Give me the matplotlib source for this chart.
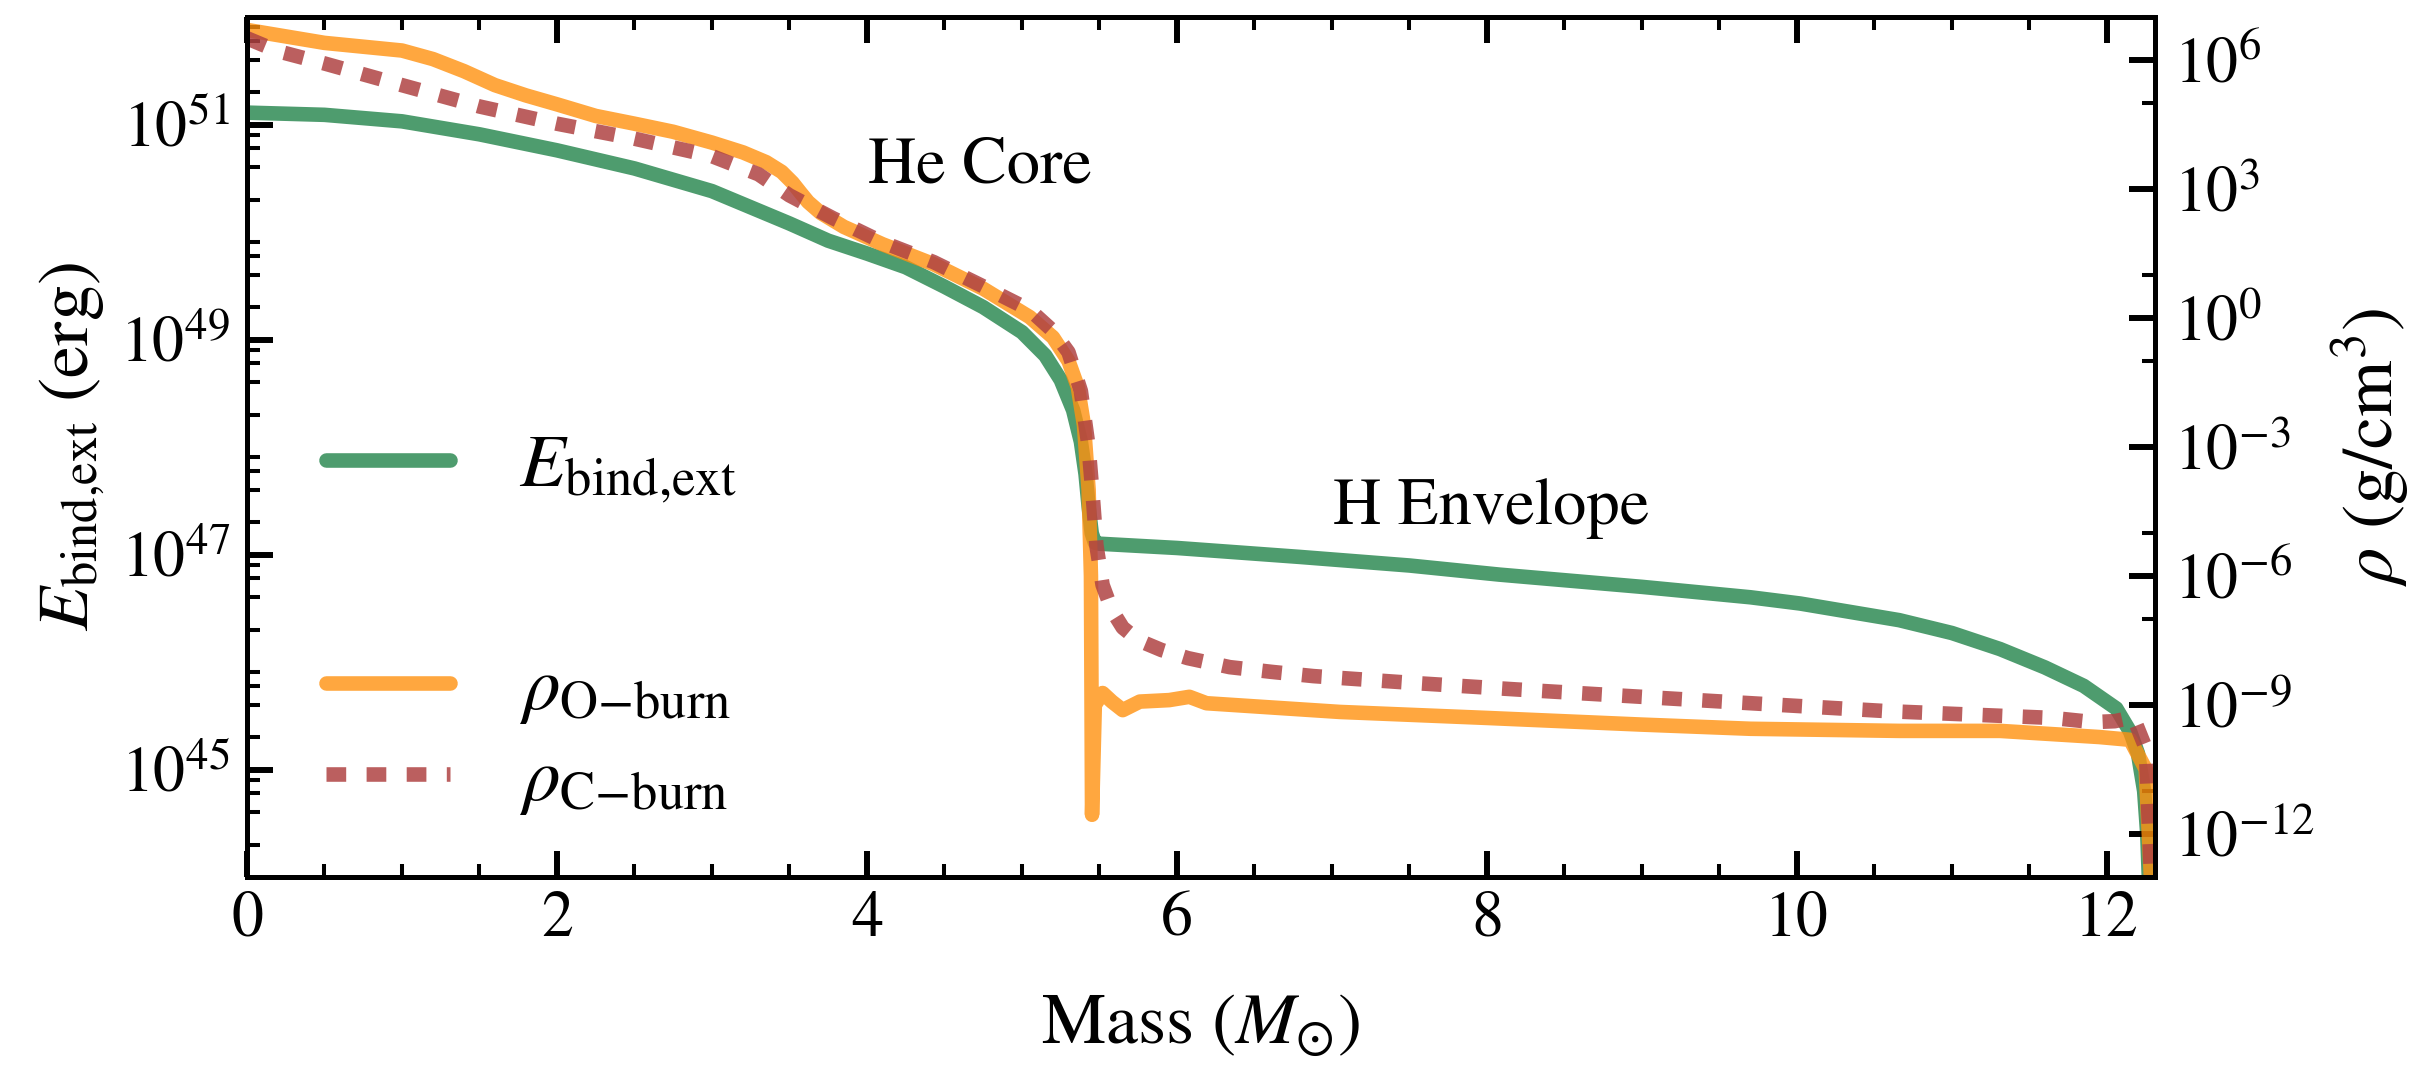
import math
import matplotlib
matplotlib.use("Agg")
import matplotlib.pyplot as plt
from matplotlib import ticker

plt.rcParams['font.family'] = 'STIXGeneral'
plt.rcParams['mathtext.fontset'] = 'stix'
plt.rcParams['font.size'] = 46

# binding energy of the layers above (erg)
mass_E = [0.00, 0.50, 1.00, 1.50, 2.00, 2.50, 3.00, 3.50, 3.75, 4.00, 4.25, 4.50, 4.75,
          5.00, 5.15, 5.25, 5.33, 5.38, 5.41, 5.43, 5.45, 5.47, 5.50, 6.00, 6.79, 7.50,
          8.08, 9.00, 9.70, 10.02, 10.66, 11.00, 11.31, 11.60, 11.85, 12.06, 12.15, 12.20,
          12.24, 12.26, 12.27, 12.28]
E_bind = [1.29e51, 1.23e51, 1.07e51, 8.1e50, 5.75e50, 3.9e50, 2.4e50, 1.2e50, 8.3e49,
          6.3e49, 4.7e49, 3.1e49, 2.0e49, 1.17e49, 7.1e48, 4.2e48, 2.2e48, 1.12e48,
          5.6e47, 2.8e47, 1.58e47, 1.29e47, 1.26e47, 1.15e47, 9.5e46, 7.9e46, 6.5e46,
          5.0e46, 4.0e46, 3.5e46, 2.45e46, 1.86e46, 1.32e46, 8.9e45, 6.0e45, 3.7e45,
          2.24e45, 1.41e45, 6.3e44, 2.5e44, 1.0e44, 1e43]

# density, O-burning model (g/cm^3)
mass_O = [0.00, 0.50, 1.00, 1.20, 1.40, 1.60, 1.80, 2.00, 2.25, 2.50, 2.75, 3.00, 3.20,
          3.35, 3.45, 3.52, 3.57, 3.62, 3.70, 3.85, 4.10, 4.43, 4.75, 5.05, 5.20, 5.30,
          5.36, 5.40, 5.43, 5.445, 5.452, 5.47, 5.52, 5.58, 5.65, 5.76, 5.95, 6.08, 6.19,
          7.05, 8.00, 9.00, 9.70, 10.66, 11.31, 11.95, 12.15, 12.25, 12.29]
rho_O = [5.0e6, 2.5e6, 1.66e6, 1.05e6, 5.5e5, 2.6e5, 1.5e5, 9.3e4, 5.0e4, 3.3e4, 2.14e4,
         1.2e4, 7.1e3, 4.2e3, 2.5e3, 1.4e3, 8.3e2, 5.0e2, 2.8e2, 1.32e2, 52, 17.8, 4.8,
         1.05, 0.355, 0.1, 2.5e-2, 3.2e-3, 1.0e-4, 1.0e-6, 2.8e-12, 1.0e-9, 1.9e-9,
         1.2e-9, 7.6e-10, 1.2e-9, 1.3e-9, 1.55e-9, 1.1e-9, 6.9e-10, 5.0e-10, 3.5e-10,
         2.8e-10, 2.5e-10, 2.5e-10, 1.8e-10, 1.55e-10, 3.2e-11, 3.2e-14]

# density, C-burning model (g/cm^3)
mass_C = [0.00, 0.20, 0.50, 1.00, 1.50, 2.00, 2.50, 3.00, 3.30, 3.50, 3.78, 4.10, 4.43,
          4.73, 5.05, 5.20, 5.30, 5.38, 5.43, 5.46, 5.48, 5.52, 5.58, 5.65, 5.75, 5.90,
          6.07, 6.34, 6.61, 6.88, 7.50, 8.19, 9.52, 10.58, 11.65, 11.91, 12.05, 12.17,
          12.25, 12.29]
rho_C = [3.2e6, 1.6e6, 8.3e5, 2.6e5, 8.3e4, 3.3e4, 1.48e4, 5.8e3, 2.2e3, 7.1e2, 2.1e2,
         58, 20, 5.9, 1.55, 0.5, 0.16, 2.0e-2, 1.0e-3, 5.0e-5, 5.2e-6, 6.2e-7, 1.6e-7,
         6.3e-8, 3.2e-8, 1.9e-8, 1.23e-8, 7.6e-9, 5.9e-9, 4.7e-9, 3.3e-9, 2.3e-9, 1.2e-9,
         7.2e-10, 5.0e-10, 4.0e-10, 4.2e-10, 5.2e-10, 1e-10, 3.2e-14]

fig = plt.figure(figsize=(24.32, 10.78), dpi=100)
ax1 = fig.add_axes([247/2432, 201/1078, 1908/2432, 860/1078])
ax2 = ax1.twinx()

lw = 10.5
l1, = ax1.plot(mass_E, E_bind, color='#4e9c6e', lw=lw, solid_capstyle='round',
               solid_joinstyle='round', label=r'$E_{\rm bind{,}ext}$')
l2, = ax2.plot(mass_O, rho_O, color='#ff910f', alpha=0.8, lw=lw, solid_capstyle='round',
               solid_joinstyle='round', label=r'$\rho_{\rm O{-}burn}$')
l3, = ax2.plot(mass_C, rho_C, color='#b04343', alpha=0.85, lw=lw, dashes=(1.35, 1.4),
               label=r'$\rho_{\rm C{-}burn}$')

ax1.set_xlim(0, 12.31)
ax1.set_yscale('log')
ax1.set_ylim(1e44, 1e52)
ax2.set_yscale('log')
ax2.set_ylim(1e-13, 1e7)

exp_fmt = ticker.FuncFormatter(lambda v, p: r'$10^{%d}$' % round(math.log10(v)))
ax1.yaxis.set_major_locator(ticker.LogLocator(base=100.0, subs=(10.0,), numticks=50))
ax1.yaxis.set_minor_locator(ticker.LogLocator(base=10.0, subs=(2, 4, 6, 8), numticks=50))
ax1.yaxis.set_major_formatter(exp_fmt)
ax1.yaxis.set_minor_formatter(ticker.NullFormatter())
ax2.yaxis.set_major_locator(ticker.LogLocator(base=1000.0, subs=(1.0,), numticks=50))
ax2.yaxis.set_minor_locator(ticker.LogLocator(base=100.0, subs=(10.0,), numticks=50))
ax2.yaxis.set_major_formatter(exp_fmt)
ax2.yaxis.set_minor_formatter(ticker.NullFormatter())
ax1.xaxis.set_major_locator(ticker.MultipleLocator(2))
ax1.xaxis.set_minor_locator(ticker.MultipleLocator(0.5))

for ax in (ax1, ax2):
    for s in ax.spines.values():
        s.set_linewidth(3.6)
ax1.tick_params(which='both', direction='in', top=True, right=False)
ax1.tick_params(which='major', length=19, width=4.3, pad=12)
ax1.tick_params(which='minor', length=9.5, width=2.9)
ax1.tick_params(axis='x', which='major', pad=10)
ax2.tick_params(which='both', direction='in', right=True)
ax2.tick_params(which='major', length=19, width=4.3, pad=14)
ax2.tick_params(which='minor', length=9.5, width=2.9)

ax1.set_xlabel(r'Mass ($M_{\odot}$)', fontsize=52, labelpad=31)
ax1.set_ylabel(r'$E_{\rm bind{,}ext}$ (erg)', fontsize=52, labelpad=10)
ax2.set_ylabel(r'$\rho$ (g/cm$^3$)', fontsize=52, labelpad=10)

ax1.text(0.384, 0.8256, 'He Core', transform=ax1.transAxes, ha='center', va='center',
         fontsize=48)
ax1.text(0.652, 0.428, 'H Envelope', transform=ax1.transAxes, ha='center', va='center',
         fontsize=48)

leg_kw = dict(frameon=False, borderpad=0, borderaxespad=0, handlelength=1.65,
              handletextpad=0.93, fontsize=54)
leg1 = ax2.legend(handles=[l1], loc='center left', bbox_to_anchor=(0.0414, 0.473), **leg_kw)
ax2.add_artist(leg1)
ax2.legend(handles=[l2, l3], loc='center left', bbox_to_anchor=(0.0414, 0.163),
           labelspacing=0.29, **leg_kw)

fig.savefig('out.png', dpi=100)
